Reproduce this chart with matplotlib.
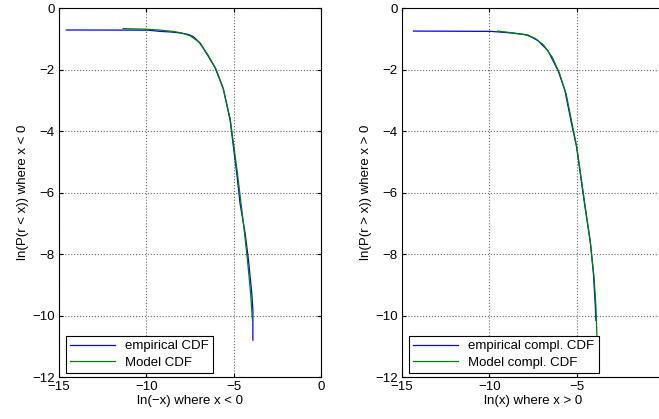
import numpy as np
import matplotlib.pyplot as plt

plt.rcParams['font.family'] = ['Liberation Sans', 'DejaVu Sans']
plt.rcParams['font.size'] = 9.5

# left panel: negative returns ----------------------------------
neg_emp_x = [-14.58, -9.9, -9.22, -8.6, -8.07, -7.6, -7.31, -6.9, -6.54, -6.07,
             -5.59, -5.2, -5.01, -4.82, -4.63, -4.34, -4.15, -3.96, -3.9, -3.9]
neg_emp_y = [-0.715, -0.72, -0.76, -0.78, -0.81, -0.86, -0.93, -1.15, -1.49, -1.93,
             -2.63, -3.66, -4.53, -5.39, -6.37, -7.34, -8.21, -9.29, -9.83, -10.8]
neg_mod_x = [-11.33, -10.0, -9.2, -8.5, -8.0, -7.5, -7.0, -6.5, -6.0, -5.6,
             -5.2, -5.0, -4.8, -4.6, -4.4, -4.2, -4.05, -3.92]
neg_mod_y = [-0.67, -0.69, -0.72, -0.76, -0.81, -0.9, -1.1, -1.5, -2.0, -2.62,
             -3.6, -4.45, -5.3, -6.25, -7.2, -8.25, -9.15, -10.16]

# right panel: positive returns ---------------------------------
pos_emp_x = [-14.34, -9.91, -8.76, -7.79, -7.22, -6.64, -6.06, -5.67, -5.29, -5.0,
             -4.71, -4.52, -4.23, -4.04, -3.94, -3.9]
pos_emp_y = [-0.75, -0.76, -0.81, -0.88, -1.06, -1.39, -2.04, -2.69, -3.77, -4.53,
             -5.72, -6.48, -7.56, -8.64, -9.62, -10.16]
pos_mod_x = [-9.53, -8.8, -8.0, -7.4, -6.9, -6.4, -6.0, -5.6, -5.25, -5.0,
             -4.7, -4.45, -4.2, -4.0, -3.9, -3.84]
pos_mod_y = [-0.75, -0.8, -0.86, -0.98, -1.2, -1.6, -2.1, -2.8, -3.8, -4.5,
             -5.7, -6.7, -7.7, -8.8, -9.7, -10.65]

left_xticks = [-15, -10, -5, 0]
right_xticks = [-15, -10, -5]
y_ticks = [0, -2, -4, -6, -8, -10, -12]

fig = plt.figure(figsize=(6.59, 4.19), dpi=100)
ax1 = fig.add_axes([0.0895, 0.1002, 0.3976, 0.8807])
ax2 = fig.add_axes([0.6100, 0.1002, 0.3976, 0.8807])

panels = [
    (ax1, neg_emp_x, neg_emp_y, neg_mod_x, neg_mod_y, left_xticks,
     'empirical CDF', 'Model CDF',
     'ln(\u2212x) where x < 0', 'ln(P(r < x)) where x < 0'),
    (ax2, pos_emp_x, pos_emp_y, pos_mod_x, pos_mod_y, right_xticks,
     'empirical compl. CDF', 'Model compl. CDF',
     'ln(x) where x > 0', 'ln(P(r > x)) where x > 0'),
]

for ax, ex, ey, mx, my, xt, l1, l2, xl, yl in panels:
    ax.plot(ex, ey, color=(0, 0, 1), lw=0.9, label=l1)
    ax.plot(mx, my, color=(0, 0.5, 0), lw=0.9, label=l2)
    ax.set_xlim(-15, 0)
    ax.set_ylim(-12, 0)
    ax.set_xticks(xt)
    ax.set_yticks(y_ticks)
    ax.tick_params(direction='in', top=True, right=True, length=3, pad=3)
    ax.grid(True, linestyle=':', color='0.4', linewidth=0.8)
    ax.set_xlabel(xl, labelpad=1)
    ax.set_ylabel(yl, labelpad=2)
    for s in ax.spines.values():
        s.set_linewidth(0.8)
    leg = ax.legend(loc='lower left', bbox_to_anchor=(0.027, 0.012), borderaxespad=0,
                    fancybox=False, framealpha=1, edgecolor='black',
                    handlelength=3.4, borderpad=0.3, labelspacing=0.3)
    leg.get_frame().set_linewidth(0.8)

fig.savefig('out.png', dpi=100)
